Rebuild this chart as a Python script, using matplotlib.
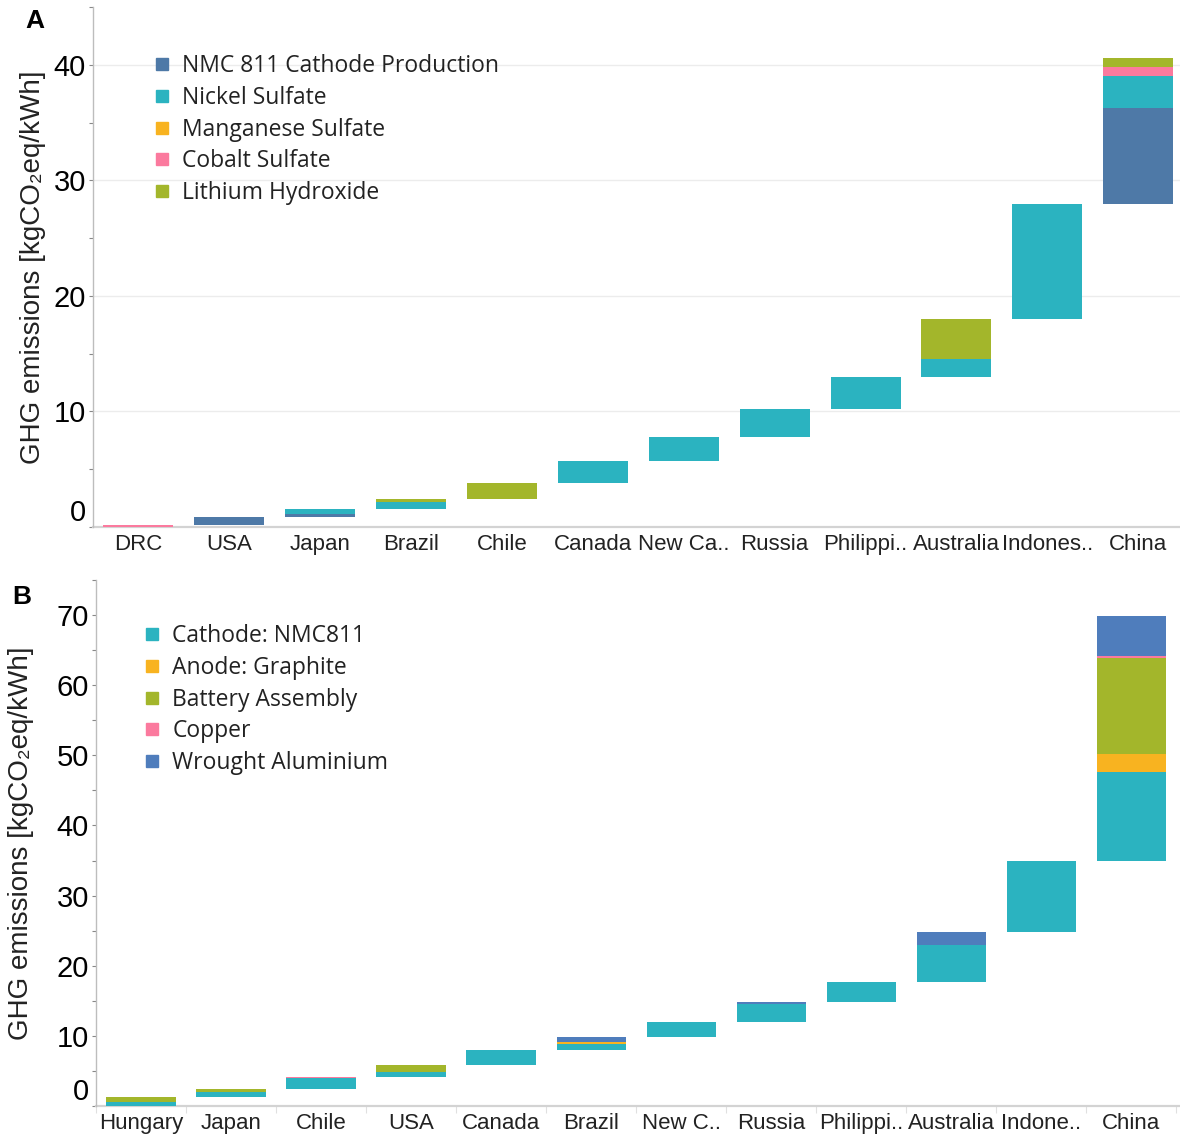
import matplotlib
matplotlib.use("Agg")
import matplotlib.pyplot as plt
from matplotlib.lines import Line2D
from matplotlib.ticker import FixedLocator
import numpy as np

# Panel A: cathode supply chain by producing country
countries_a = ["DRC", "USA", "Japan", "Brazil", "Chile", "Canada", "New Ca..",
               "Russia", "Philippi..", "Australia", "Indones..", "China"]
nmc811_cathode = [0, 0.75, 0.21, 0, 0, 0, 0, 0, 0, 0, 0, 8.33]
nickel_sulfate = [0, 0, 0.43, 0.64, 0, 1.91, 2.05, 2.43, 2.76, 1.56, 9.88, 2.74]
manganese_sulfate = [0, 0, 0, 0, 0, 0, 0, 0, 0, 0, 0, 0]
cobalt_sulfate = [0.15, 0, 0, 0, 0, 0.06, 0, 0, 0, 0, 0, 0.78]
lithium_hydroxide = [0, 0, 0, 0.20, 1.40, 0, 0, 0, 0, 3.49, 0, 0.81]
labels_a = ["NMC 811 Cathode Production", "Nickel Sulfate", "Manganese Sulfate",
            "Cobalt Sulfate", "Lithium Hydroxide"]
yticks_a = [0, 10, 20, 30, 40]

# Panel B: battery cell supply chain by producing country
countries_b = ["Hungary", "Japan", "Chile", "USA", "Canada", "Brazil", "New C..",
               "Russia", "Philippi..", "Australia", "Indone..", "China"]
cathode_nmc811 = [0.57, 0.80, 1.57, 0.66, 2.10, 0.84, 2.09, 2.60, 2.85, 5.31, 10.01, 12.81]
anode_graphite = [0, 0, 0, 0, 0, 0.28, 0, 0, 0, 0, 0, 2.47]
battery_assembly = [0.67, 0.38, 0, 1.05, 0, 0, 0, 0, 0, 0, 0, 13.67]
copper = [0, 0, 0.14, 0, 0, 0, 0, 0, 0, 0, 0, 0.34]
wrought_aluminium = [0, 0, 0, 0, 0.05, 0.76, 0, 0.24, 0, 1.91, 0, 5.69]
labels_b = ["Cathode: NMC811", "Anode: Graphite", "Battery Assembly", "Copper",
            "Wrought Aluminium"]
yticks_b = [0, 10, 20, 30, 40, 50, 60, 70]

colors_a = ["#4E79A7", "#2BB3C0", "#F8B320", "#FB7A9E", "#A3B62B"]
colors_b = ["#2BB3C0", "#F8B320", "#A3B62B", "#FB7A9E", "#4F7DBC"]

YLABEL = "GHG emissions [kgCO\u2082eq/kWh]"
SANS = ["Liberation Sans", "DejaVu Sans"]
LEG = ["Open Sans", "DejaVu Sans"]

W, H = 1180, 1137
fig = plt.figure(figsize=(W / 100, H / 100), dpi=100)


def waterfall(ax, countries, series, colors):
    x = np.arange(len(countries))
    running = 0.0
    for i in range(len(countries)):
        for vals, col in zip(series, colors):
            v = vals[i]
            if v <= 0:
                continue
            ax.bar(x[i], v, bottom=running, width=0.77, color=col,
                   linewidth=0, zorder=3)
            running += v
    ax.set_xticks(x)
    ax.set_xticklabels(countries, fontsize=16, family=SANS, color="#222222")


def style(ax, ymax, yticks, grid):
    for s in ["top", "right"]:
        ax.spines[s].set_visible(False)
    ax.spines["left"].set_color("#bdbdbd")
    ax.spines["left"].set_linewidth(1.0)
    ax.spines["bottom"].set_color("#d3d3d3")
    ax.spines["bottom"].set_linewidth(1.6)
    ax.spines["bottom"].set_zorder(2)
    ax.set_ylim(0, ymax)
    ax.yaxis.set_major_locator(FixedLocator(yticks))
    ax.yaxis.set_minor_locator(FixedLocator([t + 5 for t in yticks]))
    ax.set_yticklabels([str(t) for t in yticks], family=SANS, fontsize=21)
    ax.tick_params(axis="y", which="both", length=3, width=0.8, color="#888888",
                   pad=2)
    ax.tick_params(axis="x", which="major", length=0, pad=5)
    # the zero label sits just above its tick
    ax.yaxis.get_major_ticks()[0].label1.set_verticalalignment("bottom")
    if grid:
        ax.grid(axis="y", which="major", color="#ececec", linewidth=1.0, zorder=0)
        ax.set_axisbelow(True)


# ---- Panel A ----
axA = fig.add_axes([93 / W, 1 - 527 / H, (W - 93) / W, (527 - 7) / H])
series_a = [nmc811_cathode, nickel_sulfate, manganese_sulfate, cobalt_sulfate,
            lithium_hydroxide]
waterfall(axA, countries_a, series_a, colors_a)
axA.set_xlim(-0.5, 11.46)
style(axA, 45, yticks_a, True)
axA.set_ylabel(YLABEL, fontsize=20, family=SANS, color="#222222")
axA.yaxis.set_label_coords(-0.043, 0.5)
handles_a = [Line2D([], [], marker="s", ls="", markersize=8, color=c) for c in colors_a]
legA = axA.legend(handles_a, labels_a, loc="upper left",
                  bbox_to_anchor=(155 / W, 1 - 54 / H), bbox_transform=fig.transFigure,
                  frameon=False, handlelength=0.6, handletextpad=0.6,
                  labelspacing=0.34, prop={"family": LEG, "size": 16.5},
                  borderaxespad=0, borderpad=0)
for t in legA.get_texts():
    t.set_color("#222222")
fig.text(35 / W, 1 - 21 / H, "A", fontsize=19, fontweight="bold", family=SANS,
         ha="center", va="center")

# ---- Panel B ----
axB = fig.add_axes([96 / W, 1 - 1106 / H, (W - 96) / W, (1106 - 580) / H])
series_b = [cathode_nmc811, anode_graphite, battery_assembly, copper, wrought_aluminium]
waterfall(axB, countries_b, series_b, colors_b)
axB.set_xlim(-0.5, 11.54)
style(axB, 75, yticks_b, False)
axB.xaxis.set_minor_locator(FixedLocator(np.arange(-0.5, 12, 1.0)))
axB.tick_params(axis="x", which="minor", length=5, width=0.8, color="#e0e0e0")
axB.set_ylabel(YLABEL, fontsize=20, family=SANS, color="#222222")
axB.yaxis.set_label_coords(-0.057, 0.5)
handles_b = [Line2D([], [], marker="s", ls="", markersize=8, color=c) for c in colors_b]
legB = axB.legend(handles_b, labels_b, loc="upper left",
                  bbox_to_anchor=(145 / W, 1 - 624 / H), bbox_transform=fig.transFigure,
                  frameon=False, handlelength=0.6, handletextpad=0.6,
                  labelspacing=0.34, prop={"family": LEG, "size": 16.5},
                  borderaxespad=0, borderpad=0)
for t in legB.get_texts():
    t.set_color("#222222")
fig.text(22 / W, 1 - 597 / H, "B", fontsize=19, fontweight="bold", family=SANS,
         ha="center", va="center")

fig.savefig("out.png", dpi=100)
